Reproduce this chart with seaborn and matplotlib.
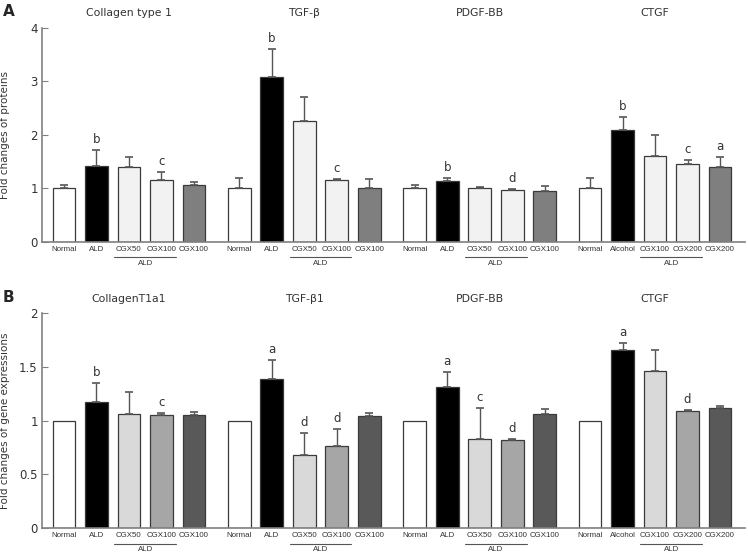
import numpy as np
import pandas as pd
import matplotlib
matplotlib.use("Agg")
import matplotlib.pyplot as plt
import matplotlib.transforms as mtransforms
import seaborn as sns

# ---- data ----
groups_a = ["Collagen type 1", "TGF-β", "PDGF-BB", "CTGF"]
groups_b = ["CollagenT1a1", "TGF-β1", "PDGF-BB", "CTGF"]

labels_std = ["Normal", "ALD", "CGX50", "CGX100", "CGX100"]
labels_ctgf = ["Normal", "Alcohol", "CGX100", "CGX200", "CGX200"]

# Panel A: fold changes of proteins (mean, upper error)
prot_vals = [
    [1.00, 1.42, 1.40, 1.16, 1.06],
    [1.00, 3.08, 2.25, 1.15, 1.01],
    [1.00, 1.13, 1.01, 0.97, 0.95],
    [1.00, 2.09, 1.60, 1.46, 1.40],
]
prot_err = [
    [0.07, 0.29, 0.19, 0.15, 0.06],
    [0.19, 0.53, 0.46, 0.02, 0.16],
    [0.06, 0.06, 0.01, 0.02, 0.09],
    [0.20, 0.24, 0.39, 0.07, 0.18],
]
prot_sig = [
    ["", "b", "", "c", ""],
    ["", "b", "", "c", ""],
    ["", "b", "", "d", ""],
    ["", "b", "", "c", "a"],
]

# Panel B: fold changes of gene expressions
gene_vals = [
    [1.00, 1.17, 1.065, 1.05, 1.05],
    [1.00, 1.39, 0.68, 0.76, 1.04],
    [1.00, 1.31, 0.83, 0.82, 1.065],
    [1.00, 1.66, 1.46, 1.09, 1.12],
]
gene_err = [
    [0.00, 0.18, 0.20, 0.02, 0.03],
    [0.00, 0.17, 0.205, 0.16, 0.035],
    [0.00, 0.14, 0.29, 0.01, 0.045],
    [0.00, 0.06, 0.20, 0.01, 0.02],
]
gene_sig = [
    ["", "b", "", "c", ""],
    ["", "a", "d", "d", ""],
    ["", "a", "c", "d", ""],
    ["", "a", "", "d", ""],
]

kinds = ["normal", "model", "low", "high", "alone"]
colors_a = {"normal": "#ffffff", "model": "#000000", "low": "#f2f2f2",
            "high": "#f2f2f2", "alone": "#7f7f7f"}
colors_b = {"normal": "#ffffff", "model": "#000000", "low": "#d9d9d9",
            "high": "#a6a6a6", "alone": "#595959"}

GROUP_STRIDE = 5.4
NARROW = ["Liberation Sans", "DejaVu Sans"]
TXT = "#333333"


def build_frame(vals, errs, sigs):
    rows = []
    for g in range(4):
        labs = labels_ctgf if g == 3 else labels_std
        for i in range(5):
            rows.append({"pos": g * GROUP_STRIDE + i, "value": vals[g][i],
                         "err": errs[g][i], "sig": sigs[g][i],
                         "kind": kinds[i], "label": labs[i], "group": g})
    return pd.DataFrame(rows)


sns.set_style("white")
plt.rcParams["font.family"] = ["DejaVu Sans"]

fig = plt.figure(figsize=(7.48, 5.56), dpi=100)
ax_a = fig.add_axes([0.056, 0.565, 0.940, 0.385])
ax_b = fig.add_axes([0.056, 0.050, 0.940, 0.387])


def draw_panel(ax, df, palette, titles, ymax, yticks, ylabel, letter):
    h_px = ax.get_position().height * fig.get_figheight() * fig.dpi
    sns.barplot(data=df, x="pos", y="value", hue="kind", palette=palette,
                native_scale=True, width=0.7, edgecolor="#3a3a3a",
                linewidth=0.9, legend=False, errorbar=None, ax=ax)
    e = df[df["err"] > 0]
    ax.errorbar(e["pos"], e["value"],
                yerr=[np.zeros(len(e)), e["err"]], fmt="none",
                ecolor="#555555", elinewidth=1.0, capsize=3, capthick=1.2)
    for _, r in df.iterrows():
        if r["sig"]:
            ax.annotate(r["sig"], (r["pos"], r["value"] + r["err"]),
                        xytext=(0, 3), textcoords="offset points",
                        ha="center", va="bottom", fontsize=8.5, color=TXT)
    ax.set_xlim(-0.68, 3 * GROUP_STRIDE + 4.77)
    ax.set_ylim(0, ymax)
    ax.set_yticks(yticks)
    ax.set_yticklabels([f"{t:g}" for t in yticks], fontsize=8.5, color=TXT)
    ax.set_xticks(df["pos"])
    ax.set_xticklabels(df["label"], fontsize=5.7, color=TXT, family=NARROW)
    ax.tick_params(axis="x", length=0, pad=3)
    ax.tick_params(axis="y", direction="in", length=4, color="#808080",
                   left=True, pad=3)
    ax.set_xlabel("")
    ax.set_ylabel(ylabel, fontsize=7.5, color=TXT)
    ax.yaxis.set_label_coords(-0.045, 0.5)
    for s in ["top", "right"]:
        ax.spines[s].set_visible(False)
    for s in ["left", "bottom"]:
        ax.spines[s].set_color("#808080")
        ax.spines[s].set_linewidth(1.2)
    trans = mtransforms.blended_transform_factory(ax.transData, ax.transAxes)
    for g in range(4):
        sub = df[df["group"] == g]
        p = sub["pos"].tolist()
        ax.plot([p[2] - 0.45, p[3] + 0.45], [-15.5 / h_px] * 2,
                color="#555555", lw=0.8, transform=trans, clip_on=False)
        ax.text((p[2] + p[3]) / 2, -21.5 / h_px, "ALD", transform=trans,
                ha="center", va="center", fontsize=5.7, color=TXT,
                family=NARROW)
        ax.text(p[2], 1 + 14.5 / h_px, titles[g], transform=trans,
                ha="center", va="center", fontsize=7.8, color=TXT)
    ax.text(-0.047, 1 + 16 / h_px, letter, transform=ax.transAxes,
            fontsize=11, fontweight="bold", ha="center", va="center")


df_a = build_frame(prot_vals, prot_err, prot_sig)
df_b = build_frame(gene_vals, gene_err, gene_sig)
draw_panel(ax_a, df_a, colors_a, groups_a, 4, [0, 1, 2, 3, 4],
           "Fold changes of proteins", "A")
draw_panel(ax_b, df_b, colors_b, groups_b, 2, [0, 0.5, 1, 1.5, 2],
           "Fold changes of gene expressions", "B")

fig.savefig("out.png", dpi=100)
